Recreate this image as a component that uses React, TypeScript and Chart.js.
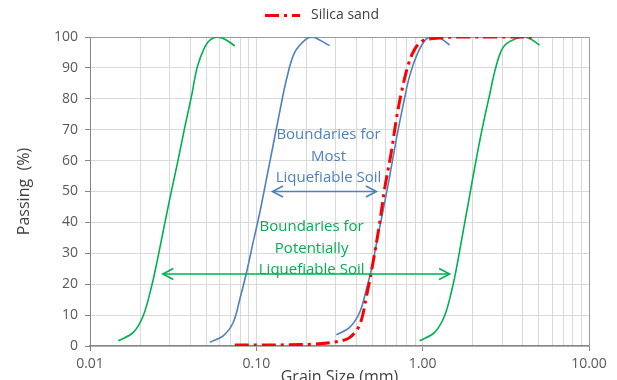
import React, { useEffect, useRef } from "react";
import { Chart, registerables } from "chart.js";

Chart.register(...registerables);

// ---- Data ----
const xTickValues = [
  0.01, 0.02, 0.03, 0.04, 0.05, 0.06, 0.07, 0.08, 0.09,
  0.1, 0.2, 0.3, 0.4, 0.5, 0.6, 0.7, 0.8, 0.9,
  1, 2, 3, 4, 5, 6, 7, 8, 9, 10,
];
const xMajorLabels: Record<string, string> = { "0.01": "0.01", "0.1": "0.10", "1": "1.00", "10": "10.00" };

const greenLeftX = [0.0148, 0.0182, 0.0209, 0.0235, 0.0257, 0.0282, 0.031, 0.0339, 0.0372, 0.0407, 0.0442, 0.0491, 0.0526, 0.0577, 0.0647, 0.0743];
const greenLeftY = [1.7, 4.4, 9.8, 19.5, 29.1, 39.9, 50.6, 60.3, 71.0, 80.7, 90.4, 96.9, 99.0, 99.9, 99.3, 97.1];

const blueLeftX = [0.0526, 0.0632, 0.0726, 0.0796, 0.0873, 0.0957, 0.105, 0.115, 0.126, 0.138, 0.152, 0.17, 0.2, 0.219, 0.276];
const blueLeftY = [1.2, 3.3, 7.6, 15.2, 23.8, 33.6, 43.3, 54.0, 64.8, 75.6, 86.4, 95.0, 99.4, 100, 97.2];

const blueRightX = [0.303, 0.365, 0.419, 0.459, 0.492, 0.539, 0.591, 0.634, 0.695, 0.762, 0.836, 0.937, 1.052, 1.153, 1.295, 1.452];
const blueRightY = [3.6, 6.1, 11.0, 18.4, 24.9, 35.7, 46.5, 55.1, 67.0, 77.8, 87.5, 95.0, 99.4, 100, 99.4, 97.4];

const greenRightX = [0.959, 1.18, 1.355, 1.486, 1.593, 1.747, 1.915, 2.1, 2.3, 2.52, 2.77, 3.1, 3.92, 4.39, 5.04];
const greenRightY = [1.7, 4.4, 9.8, 17.4, 24.9, 36.8, 48.6, 60.5, 71.3, 81.0, 90.7, 97.2, 100, 99.5, 97.4];

const silicaX = [0.0743, 0.105, 0.159, 0.218, 0.303, 0.365, 0.419, 0.459, 0.503, 0.552, 0.591, 0.649, 0.695, 0.745, 0.816, 0.895, 1.004, 1.208, 1.67, 2.9, 4.7];
const silicaY = [0.3, 0.3, 0.4, 0.6, 1.4, 2.8, 7.0, 16.0, 27.0, 40.0, 51.0, 63.0, 73.5, 82.0, 90.7, 96.0, 98.8, 99.6, 100, 100, 100];

const blueArrowX = [0.125, 0.527];
const blueArrowY = 50;
const greenArrowX = [0.0274, 1.452];
const greenArrowY = 23.3;

const blueLabelLines = ["Boundaries for", "Most", "Liquefiable Soil"];
const greenLabelLines = ["Boundaries for", "Potentially", "Liquefiable Soil"];

// ---- Styles ----
const GREEN = "#00B050";
const BLUE = "#4F81BD";
const RED = "#FF0000";
const FONT = '"Open Sans", sans-serif';

const blueLabelPos = { x: 0.2716, y: [68.3, 61.3, 54.3] };
const greenLabelPos = { x: 0.215, y: [38.6, 31.6, 24.8] };

function pts(xs: number[], ys: number[]) {
  return xs.map((x, i) => ({ x, y: ys[i] }));
}

function drawArrow(ctx: CanvasRenderingContext2D, x1: number, x2: number, y: number, color: string) {
  ctx.save();
  ctx.strokeStyle = color;
  ctx.lineWidth = 1.6;
  ctx.setLineDash([]);
  ctx.beginPath();
  ctx.moveTo(x1, y);
  ctx.lineTo(x2, y);
  ctx.stroke();
  ctx.beginPath();
  ctx.moveTo(x1 + 10.5, y - 5.5);
  ctx.lineTo(x1, y);
  ctx.lineTo(x1 + 10.5, y + 5.5);
  ctx.moveTo(x2 - 10.5, y - 5.5);
  ctx.lineTo(x2, y);
  ctx.lineTo(x2 - 10.5, y + 5.5);
  ctx.stroke();
  ctx.restore();
}

const annotationPlugin = {
  id: "annotations",
  beforeDatasetsDraw(chart: any) {
    const { ctx, chartArea } = chart;
    ctx.save();
    ctx.strokeStyle = "#9a9a9a";
    ctx.lineWidth = 1;
    ctx.beginPath();
    ctx.moveTo(chartArea.left, chartArea.top + 0.5);
    ctx.lineTo(chartArea.right + 0.5, chartArea.top + 0.5);
    ctx.lineTo(chartArea.right + 0.5, chartArea.bottom);
    ctx.stroke();
    ctx.restore();
  },
  afterDatasetsDraw(chart: any) {
    const { ctx } = chart;
    const xs = chart.scales.x;
    const ys = chart.scales.y;
    drawArrow(ctx, xs.getPixelForValue(blueArrowX[0]), xs.getPixelForValue(blueArrowX[1]), ys.getPixelForValue(blueArrowY), BLUE);
    drawArrow(ctx, xs.getPixelForValue(greenArrowX[0]), xs.getPixelForValue(greenArrowX[1]), ys.getPixelForValue(greenArrowY), GREEN);
    ctx.save();
    ctx.font = `15px ${FONT}`;
    ctx.textAlign = "center";
    ctx.textBaseline = "middle";
    ctx.fillStyle = BLUE;
    blueLabelLines.forEach((t, i) => {
      ctx.fillText(t, xs.getPixelForValue(blueLabelPos.x), ys.getPixelForValue(blueLabelPos.y[i]));
    });
    ctx.fillStyle = GREEN;
    greenLabelLines.forEach((t, i) => {
      ctx.fillText(t, xs.getPixelForValue(greenLabelPos.x), ys.getPixelForValue(greenLabelPos.y[i]));
    });
    ctx.restore();
  },
  afterDraw(chart: any) {
    const { ctx } = chart;
    ctx.save();
    ctx.strokeStyle = RED;
    ctx.lineWidth = 3;
    ctx.setLineDash([14, 5, 3, 5]);
    ctx.beginPath();
    ctx.moveTo(265, 15.5);
    ctx.lineTo(300, 15.5);
    ctx.stroke();
    ctx.setLineDash([]);
    ctx.font = `14px ${FONT}`;
    ctx.fillStyle = "#404040";
    ctx.textAlign = "left";
    ctx.textBaseline = "middle";
    ctx.fillText("Silica sand", 311, 15);
    ctx.restore();
  },
};

export default function App() {
  const canvasRef = useRef<HTMLCanvasElement | null>(null);

  useEffect(() => {
    if (!canvasRef.current) return;
    Chart.defaults.font.family = FONT;
    const common = { pointRadius: 0, pointHoverRadius: 0, fill: false, tension: 0.35 };
    const chart = new Chart(canvasRef.current, {
      type: "line",
      data: {
        datasets: [
          { label: "Silica sand", data: pts(silicaX, silicaY), borderColor: RED, borderWidth: 3, borderDash: [14, 5, 3, 5], ...common },
          { label: "Green left", data: pts(greenLeftX, greenLeftY), borderColor: GREEN, borderWidth: 1.6, ...common },
          { label: "Blue left", data: pts(blueLeftX, blueLeftY), borderColor: BLUE, borderWidth: 1.6, ...common },
          { label: "Blue right", data: pts(blueRightX, blueRightY), borderColor: BLUE, borderWidth: 1.6, ...common },
          { label: "Green right", data: pts(greenRightX, greenRightY), borderColor: GREEN, borderWidth: 1.6, ...common },
        ],
      },
      options: {
        responsive: false,
        animation: false,
        layout: { padding: { top: 37, right: 28, left: 0, bottom: 0 } },
        plugins: { legend: { display: false }, tooltip: { enabled: false } },
        scales: {
          x: {
            type: "logarithmic",
            min: 0.01,
            max: 10,
            afterBuildTicks: (scale: any) => {
              scale.ticks = xTickValues.map((v) => ({ value: v }));
            },
            afterFit: (scale: any) => {
              scale.height = 34;
            },
            ticks: {
              autoSkip: false,
              maxRotation: 0,
              minRotation: 0,
              padding: 5,
              color: "#595959",
              font: { size: 14 },
              callback: (v: any) => xMajorLabels[String(v)] ?? "",
            },
            grid: {
              color: "#d9d9d9",
              lineWidth: 1,
              tickLength: 5,
              tickColor: (c: any) => (c.tick && xMajorLabels[String(c.tick.value)] ? "#868686" : "rgba(0,0,0,0)"),
            },
            border: { color: "#868686", width: 1.5 },
            title: {
              display: true,
              text: "Grain Size (mm)",
              color: "#404040",
              font: { size: 16 },
              padding: { top: 0, bottom: -7 },
            },
          },
          y: {
            min: 0,
            max: 100,
            afterFit: (scale: any) => {
              scale.width = 90;
            },
            ticks: { stepSize: 10, padding: 7, color: "#595959", font: { size: 14 } },
            grid: { color: "#d9d9d9", lineWidth: 1, tickLength: 5, tickColor: "#868686" },
            border: { color: "#868686", width: 1 },
            title: {
              display: true,
              text: "Passing  (%)",
              color: "#404040",
              font: { size: 16 },
              padding: { top: 15, bottom: 0 },
            },
          },
        },
      },
      plugins: [annotationPlugin],
    } as any);
    return () => chart.destroy();
  }, []);

  return (
    <div style={{ position: "fixed", left: 0, top: 0, width: 617, height: 380, background: "#ffffff" }}>
      <canvas ref={canvasRef} width={617} height={380} />
    </div>
  );
}
